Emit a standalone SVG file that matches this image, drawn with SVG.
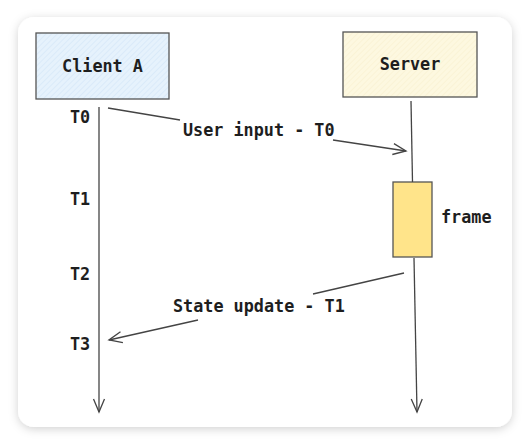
<svg xmlns="http://www.w3.org/2000/svg" width="530" height="445" viewBox="0 0 530 445">
  <defs>
    <filter id="shadow" x="-10%" y="-10%" width="120%" height="120%">
      <feDropShadow dx="0" dy="2" stdDeviation="5" flood-color="#000" flood-opacity="0.18"/>
    </filter>
    <pattern id="hatchBlue" width="4" height="4" patternUnits="userSpaceOnUse" patternTransform="rotate(45)">
      <rect width="4" height="4" fill="#e6f2fc"/>
      <line x1="0" y1="0" x2="0" y2="4" stroke="#d2e6f7" stroke-width="1.2"/>
    </pattern>
    <pattern id="hatchYellow" width="4" height="4" patternUnits="userSpaceOnUse" patternTransform="rotate(45)">
      <rect width="4" height="4" fill="#fdf8e0"/>
      <line x1="0" y1="0" x2="0" y2="4" stroke="#f8f0cf" stroke-width="1.2"/>
    </pattern>
    <marker id="arrow" markerWidth="16" markerHeight="16" refX="14" refY="8" orient="auto" markerUnits="userSpaceOnUse">
      <path d="M1,2.5 L14,8 L1,13.5" fill="none" stroke="#444" stroke-width="1.3"/>
    </marker>
  </defs>
  <style>
    .box { stroke: #555; stroke-width: 1.3; }
    .line { stroke: #444; stroke-width: 1.3; fill: none; }
    text { font-family: "DejaVu Sans Mono", "Liberation Mono", monospace; font-size: 16.8px; font-weight: bold; fill: #1e1e1e; }
  </style>
  <rect x="0" y="0" width="530" height="445" fill="#ffffff"/>
  <rect x="18" y="17" width="494" height="410" rx="16" fill="#ffffff" filter="url(#shadow)"/>

  <g id="client-a">
    <rect class="box" x="36" y="33" width="133" height="66" fill="url(#hatchBlue)"/>
    <text x="102.5" y="72" text-anchor="middle">Client A</text>
  </g>
  <g id="server">
    <rect class="box" x="343" y="32" width="134" height="65" fill="url(#hatchYellow)"/>
    <text x="410" y="70" text-anchor="middle">Server</text>
  </g>
  <g id="frame">
    <rect class="box" x="393" y="182" width="39" height="75" fill="#ffe48a"/>
    <text x="441" y="223">frame</text>
  </g>
  <g id="time-labels">
    <text x="70" y="123">T0</text>
    <text x="70" y="205">T1</text>
    <text x="70" y="280">T2</text>
    <text x="70" y="350">T3</text>
  </g>

  <g id="connectors">
    <line class="line" x1="99" y1="107" x2="99" y2="412" marker-end="url(#arrow)"/>
    <line class="line" x1="411" y1="101" x2="412.5" y2="182"/>
    <line class="line" x1="414" y1="258" x2="417" y2="412" marker-end="url(#arrow)"/>
    <line class="line" x1="108" y1="108" x2="180" y2="120"/>
    <line class="line" x1="333" y1="140" x2="406" y2="151" marker-end="url(#arrow)"/>
    <line class="line" x1="404" y1="273" x2="313" y2="294"/>
    <line class="line" x1="198" y1="320" x2="109" y2="340" marker-end="url(#arrow)"/>
    <text x="183" y="136">User input - T0</text>
    <text x="173" y="312">State update - T1</text>
  </g>
</svg>
